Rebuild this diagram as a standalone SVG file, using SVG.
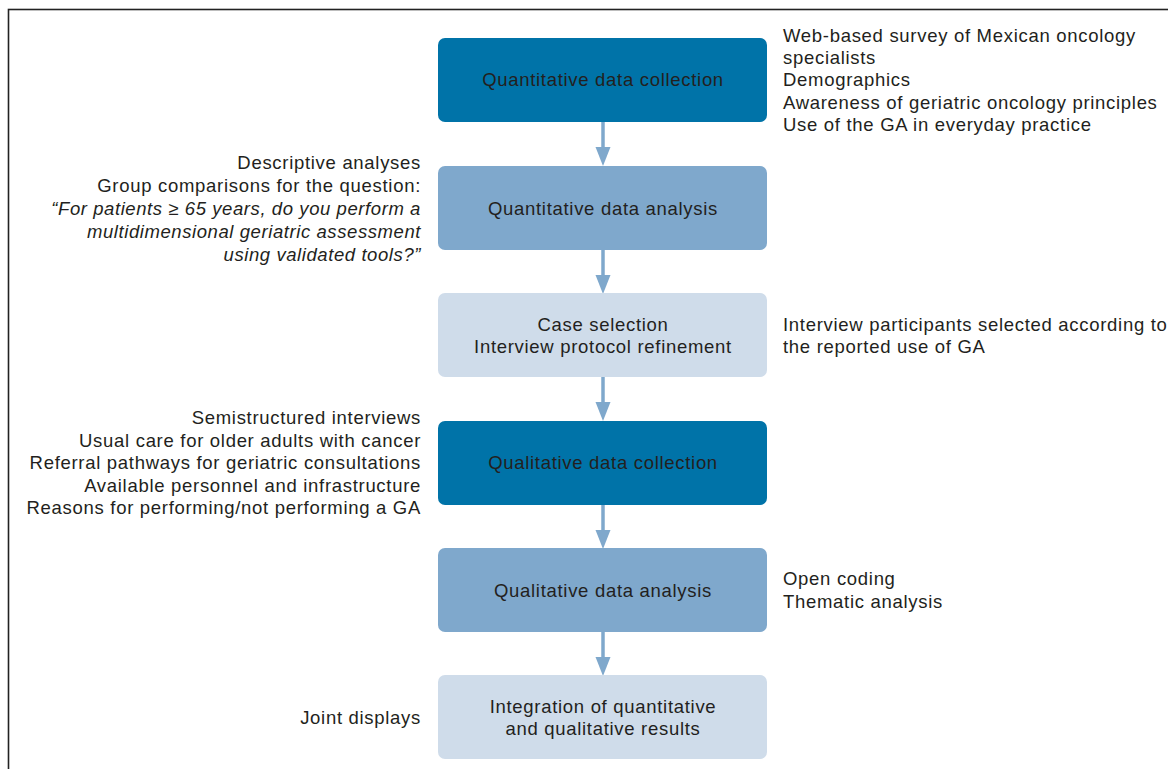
<svg xmlns="http://www.w3.org/2000/svg" width="1168" height="769" viewBox="0 0 1168 769">
<defs>
<style>
text{font-family:"Liberation Sans",Arial,sans-serif;font-size:18.5px;letter-spacing:0.7px;fill:#231f20}
.c{text-anchor:middle}
.r{text-anchor:end}
.i{font-style:italic;letter-spacing:0.58px}
.dark{fill:#0073a8}
.mid{fill:#7fa8cc}
.light{fill:#cfdcea}
.conn line{stroke:#7fa8cc;stroke-width:3.5}
.conn path{fill:#7fa8cc}
</style>
</defs>
<rect x="0" y="0" width="1168" height="769" fill="#fff"/>
<rect x="8.5" y="9.5" width="1180" height="780" fill="none" stroke="#222" stroke-width="1.6"/>
<g id="conn" class="conn">
<line x1="603" y1="122" x2="603" y2="150"/><path d="M595.5,147 L610.5,147 L603,166 Z"/>
<line x1="603" y1="250" x2="603" y2="278"/><path d="M595.5,275 L610.5,275 L603,294 Z"/>
<line x1="603" y1="377" x2="603" y2="405"/><path d="M595.5,402 L610.5,402 L603,421 Z"/>
<line x1="603" y1="505" x2="603" y2="533"/><path d="M595.5,530 L610.5,530 L603,549 Z"/>
<line x1="603" y1="632" x2="603" y2="660"/><path d="M595.5,657 L610.5,657 L603,676 Z"/>
</g>
<g id="n1">
<rect class="dark" x="438" y="38" width="329" height="84" rx="7"/>
<text class="c" x="603" y="86">Quantitative data collection</text>
<text x="783" y="42">Web-based survey of Mexican oncology</text>
<text x="783" y="64">specialists</text>
<text x="783" y="86">Demographics</text>
<text x="783" y="109">Awareness of geriatric oncology principles</text>
<text x="783" y="131">Use of the GA in everyday practice</text>
</g>
<g id="n2">
<rect class="mid" x="438" y="166" width="329" height="84" rx="7"/>
<text class="c" x="603" y="215">Quantitative data analysis</text>
<text class="r" x="421" y="169">Descriptive analyses</text>
<text class="r" x="421" y="192">Group comparisons for the question:</text>
<text class="r i" x="421" y="215">“For patients ≥ 65 years, do you perform a</text>
<text class="r i" x="421" y="238">multidimensional geriatric assessment</text>
<text class="r i" x="421" y="261">using validated tools?”</text>
</g>
<g id="n3">
<rect class="light" x="438" y="293" width="329" height="84" rx="7"/>
<text class="c" x="603" y="331">Case selection</text>
<text class="c" x="603" y="353">Interview protocol refinement</text>
<text x="783" y="331">Interview participants selected according to</text>
<text x="783" y="353">the reported use of GA</text>
</g>
<g id="n4">
<rect class="dark" x="438" y="421" width="329" height="84" rx="7"/>
<text class="c" x="603" y="469">Qualitative data collection</text>
<text class="r" x="421" y="424">Semistructured interviews</text>
<text class="r" x="421" y="447">Usual care for older adults with cancer</text>
<text class="r" x="421" y="469">Referral pathways for geriatric consultations</text>
<text class="r" x="421" y="492">Available personnel and infrastructure</text>
<text class="r" x="421" y="514">Reasons for performing/not performing a GA</text>
</g>
<g id="n5">
<rect class="mid" x="438" y="548" width="329" height="84" rx="7"/>
<text class="c" x="603" y="597">Qualitative data analysis</text>
<text x="783" y="585">Open coding</text>
<text x="783" y="608">Thematic analysis</text>
</g>
<g id="n6">
<rect class="light" x="438" y="675" width="329" height="84" rx="7"/>
<text class="c" x="603" y="713">Integration of quantitative</text>
<text class="c" x="603" y="735">and qualitative results</text>
<text class="r" x="421" y="724">Joint displays</text>
</g>
</svg>
